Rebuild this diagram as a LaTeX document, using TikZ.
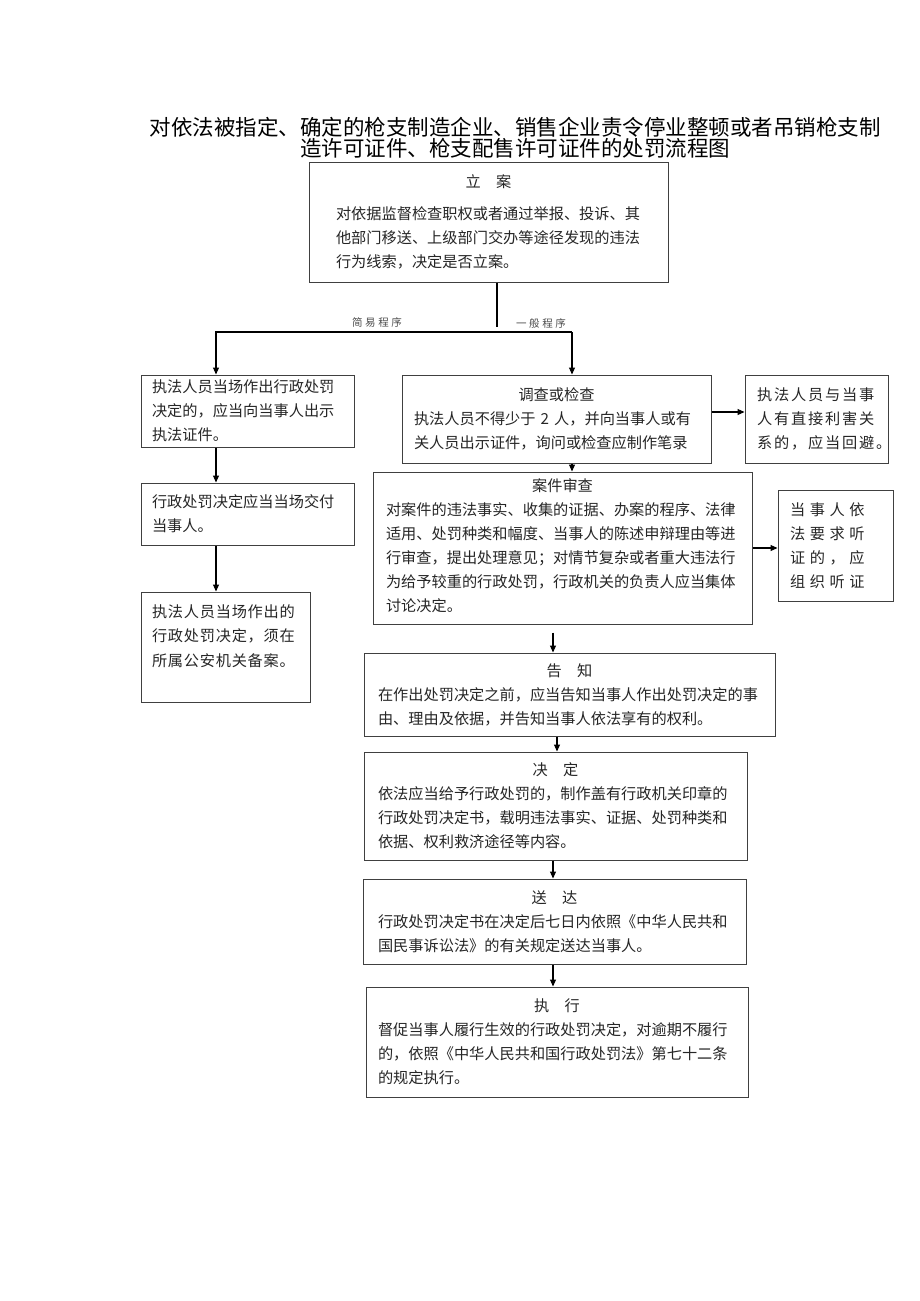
\documentclass[tikz,border=0pt]{standalone}
\usepackage{fontspec}
\usepackage{tikz}
\usetikzlibrary{arrows.meta,calc}
\newfontfamily\cjk{Noto Sans CJK SC}
\newfontfamily\cjkloose[LetterSpace=5]{Noto Sans CJK SC}
\newfontfamily\cjkwide[LetterSpace=12]{Noto Sans CJK SC}
\newfontfamily\cjkwider[LetterSpace=30]{Noto Sans CJK SC}
\newfontfamily\cjksmall[LetterSpace=25]{Noto Sans CJK SC}

\begin{document}
\begin{tikzpicture}[x=1pt,y=-1pt,
    box/.style={draw=black!75, line width=1pt, align=left, inner ysep=0pt,
      font=\cjk\fontsize{15.2}{24}\selectfont, text=black!85},
    line/.style={line width=1.1pt},
    arr/.style={-{Triangle[length=7pt,width=6pt]}, line width=1.1pt},
    lab/.style={font=\cjksmall\fontsize{10.5}{12}\selectfont, text=black!70}]
  \useasboundingbox[fill=white] (0,0) rectangle (920,1301);
  \node[font=\cjk\fontsize{21.5}{21}\selectfont, align=center] (title) at (515,137.5)
    {对依法被指定、确定的枪支制造企业、销售企业责令停业整顿或者吊销枪支制\\
     造许可证件、枪支配售许可证件的处罚流程图};
  \node[box, text width=305pt, inner xsep=27pt, minimum height=120pt] (la) at (488.5,222)
    {\makebox[\linewidth]{立\hspace{1em}案}\\[8pt]
     对依据监督检查职权或者通过举报、投诉、其\\
     他部门移送、上级部门交办等途径发现的违法\\
     行为线索，决定是否立案。};
  \node[box, text width=191pt, inner xsep=11pt, minimum height=72pt] (z1) at (247.5,411)
    {执法人员当场作出行政处罚\\决定的，应当向当事人出示\\执法证件。};
  \node[box, text width=191pt, inner xsep=11pt, minimum height=62pt] (z2) at (247.5,514)
    {行政处罚决定应当当场交付\\当事人。};
  \node[box, text width=147pt, inner xsep=11pt, minimum height=110pt, font=\cjkloose\fontsize{15.2}{24.5}\selectfont] (z3) at (225.5,647)
    {执法人员当场作出的\\行政处罚决定，须在\\所属公安机关备案。\rule[-23pt]{0pt}{0pt}};
  \node[box, text width=285pt, inner xsep=12pt, minimum height=88pt] (dc) at (556.5,419)
    {\makebox[\linewidth]{调查或检查}\\
     执法人员不得少于 2 人，并向当事人或有\\
     关人员出示证件，询问或检查应制作笔录};
  \node[box, text width=119pt, inner xsep=12pt, minimum height=88pt, font=\cjkwide\fontsize{15.2}{24}\selectfont] (hb) at (816.5,419)
    {执法人员与当事\\人有直接利害关\\系的，应当回避。};
  \node[box, text width=353pt, inner xsep=13pt, minimum height=152pt] (sc) at (562.5,548)
    {\makebox[\linewidth]{案件审查}\\
     对案件的违法事实、收集的证据、办案的程序、法律\\
     适用、处罚种类和幅度、当事人的陈述申辩理由等进\\
     行审查，提出处理意见；对情节复杂或者重大违法行\\
     为给予较重的行政处罚，行政机关的负责人应当集体\\
     讨论决定。\rule[-6pt]{0pt}{0pt}};
  \node[box, text width=91pt, inner xsep=12pt, minimum height=111pt, font=\cjkwider\fontsize{15.2}{24}\selectfont] (tz) at (835.5,545.5)
    {当事人依\\法要求听\\证的，应\\组织听证};
  \node[box, text width=383pt, inner xsep=14pt, minimum height=83pt] (gz) at (569.5,694.5)
    {\makebox[\linewidth]{告\hspace{1em}知}\\
     在作出处罚决定之前，应当告知当事人作出处罚决定的事\\
     由、理由及依据，并告知当事人依法享有的权利。};
  \node[box, text width=355pt, inner xsep=14pt, minimum height=108pt] (jd) at (555.5,806)
    {\makebox[\linewidth]{决\hspace{1em}定}\\
     依法应当给予行政处罚的，制作盖有行政机关印章的\\
     行政处罚决定书，载明违法事实、证据、处罚种类和\\
     依据、权利救济途径等内容。};
  \node[box, text width=353pt, inner xsep=15pt, minimum height=85pt] (sd) at (554.5,921.5)
    {\makebox[\linewidth]{送\hspace{1em}达}\\
     行政处罚决定书在决定后七日内依照《中华人民共和\\
     国民事诉讼法》的有关规定送达当事人。};
  \node[box, text width=358pt, inner xsep=12pt, minimum height=110pt] (zx) at (557,1042)
    {\makebox[\linewidth]{执\hspace{1em}行}\\
     督促当事人履行生效的行政处罚决定，对逾期不履行\\
     的，依照《中华人民共和国行政处罚法》第七十二条\\
     的规定执行。};
  \node[lab] (jy) at (377,323) {简易程序};
  \node[lab] (yb) at (541,323) {一般程序};
  \coordinate (jv) at (497,327);
  \coordinate (jl) at (216,332);
  \coordinate (jr) at (572,332);
  \coordinate (ax) at (553,0);
  \coordinate (ay) at (557,0);
  \coordinate (dq) at ($(dc.east)+(0,-7)$);
  \coordinate (sx) at ($(sc.south -| ax)+(0,8)$);
  \draw[line] (la.south -| jv) -- (jv);
  \draw[arr] (jr) -- (jl) -- (jl |- z1.north);
  \draw[arr] (jr) -- (jr |- dc.north);
  \draw[arr] (z1.south -| jl) -- (z2.north -| jl);
  \draw[arr] (z2.south -| jl) -- (z3.north -| jl);
  \draw[arr] (dq) -- (dq -| hb.west);
  \draw[arr] (dc.south -| jr) -- (sc.north -| jr);
  \draw[arr] (sc.east) -- (sc.east -| tz.west);
  \draw[arr] (sx) -- (gz.north -| ax);
  \draw[arr] (gz.south -| ay) -- (jd.north -| ay);
  \draw[arr] (jd.south -| ax) -- (sd.north -| ax);
  \draw[arr] (sd.south -| ax) -- (zx.north -| ax);
\end{tikzpicture}
\end{document}
